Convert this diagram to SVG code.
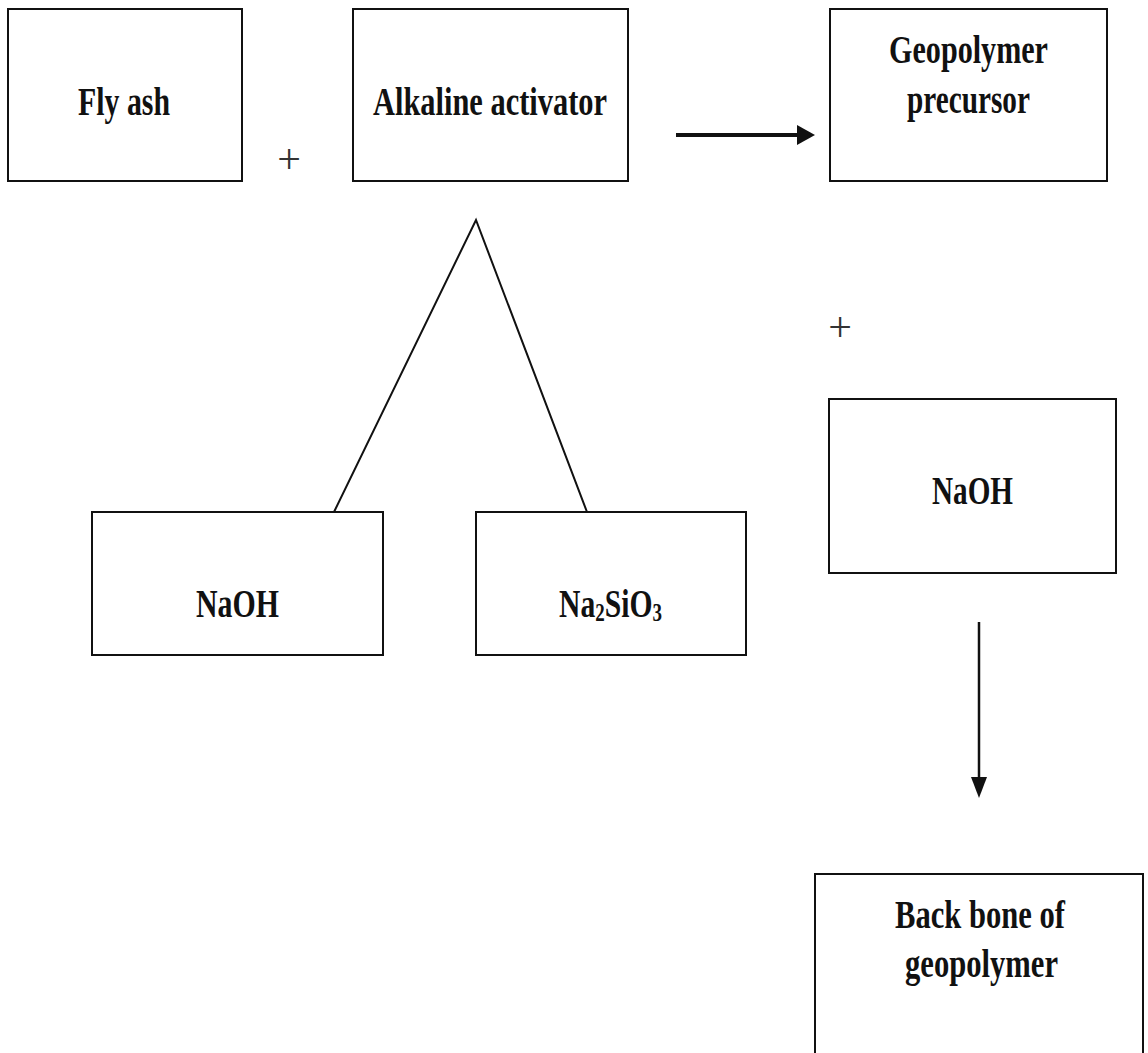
<svg xmlns="http://www.w3.org/2000/svg" width="1148" height="1053" viewBox="0 0 1148 1053">
<style>
.box{fill:#fff;stroke:#111;stroke-width:2}
.t{font-family:"Liberation Serif","Times New Roman",serif;font-weight:bold;font-size:39px;fill:#111;text-anchor:start}
.plus{font-family:"Liberation Serif","Times New Roman",serif;font-size:42px;fill:#333;text-anchor:middle}
.ln{stroke:#111;stroke-width:2;fill:none}
.head{fill:#111}
</style>
<rect width="1148" height="1053" fill="#fff"/>

<g id="flyash">
<rect class="box" x="8" y="9" width="234" height="172"/>
<text class="t" x="78" y="115" textLength="92" lengthAdjust="spacingAndGlyphs">Fly ash</text>
</g>
<g id="alkaline">
<rect class="box" x="353" y="9" width="275" height="172"/>
<text class="t" x="373" y="115" textLength="234" lengthAdjust="spacingAndGlyphs">Alkaline activator</text>
</g>
<g id="precursor">
<rect class="box" x="830" y="9" width="277" height="172"/>
<text class="t" x="889" y="63" textLength="159" lengthAdjust="spacingAndGlyphs">Geopolymer</text>
<text class="t" x="907" y="113" textLength="123" lengthAdjust="spacingAndGlyphs">precursor</text>
</g>
<g id="naoh1">
<rect class="box" x="92" y="512" width="291" height="143"/>
<text class="t" x="196" y="617" textLength="83" lengthAdjust="spacingAndGlyphs">NaOH</text>
</g>
<g id="na2sio3">
<rect class="box" x="476" y="512" width="270" height="143"/>
<text class="t" transform="translate(559,617) scale(0.76,1)" x="0" y="0">Na<tspan font-size="25" dy="4">2</tspan><tspan dy="-4">SiO</tspan><tspan font-size="25" dy="4">3</tspan></text>
</g>
<g id="naoh2">
<rect class="box" x="829" y="399" width="287" height="174"/>
<text class="t" x="932" y="504" textLength="81" lengthAdjust="spacingAndGlyphs">NaOH</text>
</g>
<g id="backbone">
<rect class="box" x="815" y="874" width="328" height="200"/>
<text class="t" x="895" y="928" textLength="170" lengthAdjust="spacingAndGlyphs">Back bone of</text>
<text class="t" x="905" y="977" textLength="153" lengthAdjust="spacingAndGlyphs">geopolymer</text>
</g>
<g id="plus1"><text class="plus" x="289" y="173">+</text></g>
<g id="plus2"><text class="plus" x="840" y="341">+</text></g>

<g id="connectors">
<line x1="676" y1="135" x2="800" y2="135" stroke="#111" stroke-width="4"/>
<polygon class="head" points="797,125 815,135 797,145"/>
<polyline class="ln" points="334,512 476,220 587,512"/>
<line x1="979" y1="622" x2="979" y2="780" stroke="#111" stroke-width="2.5"/>
<polygon class="head" points="971,777 987,777 979,798"/>
</g>
</svg>
